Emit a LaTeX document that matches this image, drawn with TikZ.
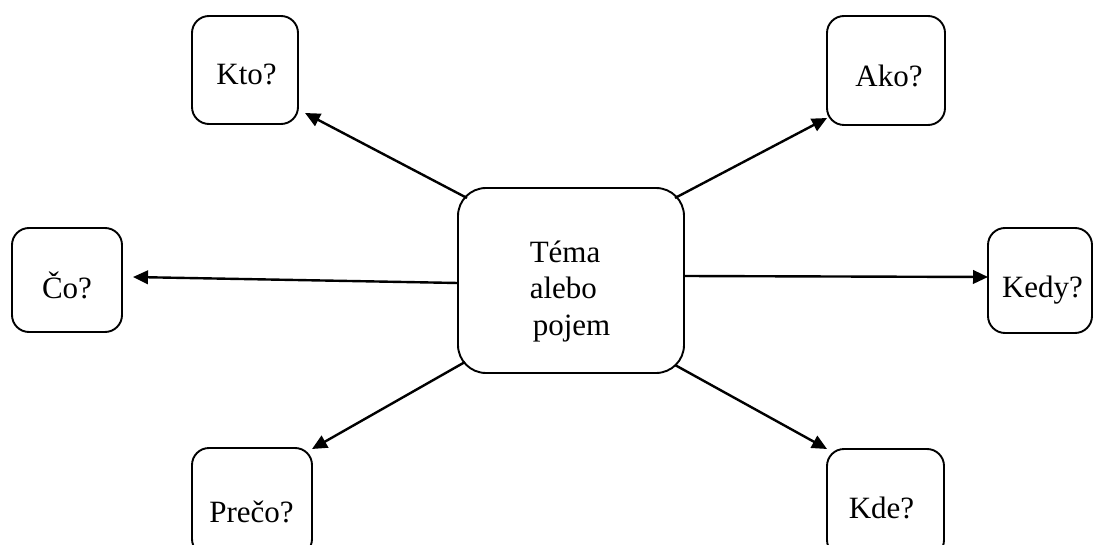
\documentclass[tikz,border=0pt]{standalone}
\usepackage{fontspec}
\setmainfont{Liberation Serif}
\usetikzlibrary{arrows.meta,calc}
\tikzset{
  smallbox/.style={draw, line width=1.9pt, rounded corners=17pt, inner sep=0pt, outer sep=0pt},
  bigbox/.style={draw, line width=1.9pt, rounded corners=28pt, inner sep=0pt, outer sep=0pt,
    minimum width=226pt, minimum height=185pt},
  lbl/.style={font=\fontsize{31}{36.5}\selectfont, inner sep=0pt, anchor=base},
  conn/.style={line width=2.4pt, -{Triangle[length=15pt,width=13.5pt]}}
}
\begin{document}
\begin{tikzpicture}[x=1pt,y=-1pt]
\useasboundingbox (0,0) rectangle (1094,545);
\fill[white] (0,0) rectangle (1094,545);
\clip (0,0) rectangle (1094,545);
% boxes
\node[bigbox] (tema) at (571,280.5) {};
\node[smallbox, minimum width=106pt, minimum height=108pt] (kto) at (245,70) {};
\node[smallbox, minimum width=118pt, minimum height=109pt] (ako) at (886,70.5) {};
\node[smallbox, minimum width=110pt, minimum height=104pt] (co) at (67,280) {};
\node[smallbox, minimum width=104pt, minimum height=105pt] (kedy) at (1040,280.5) {};
\node[smallbox, minimum width=120pt, minimum height=108pt] (preco) at (252,502) {};
\node[smallbox, minimum width=117pt, minimum height=108pt] (kde) at (885.5,503) {};
% texts
\node[font=\fontsize{31}{36.5}\selectfont, inner sep=0pt, align=left] (tematext) at (570,291.4)
  {Téma\\alebo\\\hspace*{3pt}pojem};
\node[lbl] (ktotext) at (246.5,85) {Kto?};
\node[lbl] (akotext) at (889,87) {Ako?};
\node[lbl] (cotext) at (67,298) {Čo?};
\node[lbl] (kedytext) at (1042.5,297) {Kedy?};
\node[lbl] (precotext) at (251.5,522) {Prečo?};
\node[lbl] (kdetext) at (881.5,518) {Kde?};
% connectors
\draw[conn] ($(tema.north west)+(9,10)$) -- ($(kto.south east)+(7,-11)$);
\draw[conn] ($(tema.north east)+(-9,10)$) -- ($(ako.south west)+(0,-7)$);
\draw[conn] ($(tema.west)+(0,2.5)$) -- ($(co.east)+(11,-3)$);
\draw[conn] ($(tema.east)+(0,-4.5)$) -- ($(kedy.west)+(0,-3.5)$);
\draw[conn] ($(tema.south west)+(7,-11)$) -- ($(preco.north east)+(0,1)$);
\draw[conn] ($(tema.south east)+(-9,-8)$) -- (kde.north west);
\end{tikzpicture}
\end{document}
